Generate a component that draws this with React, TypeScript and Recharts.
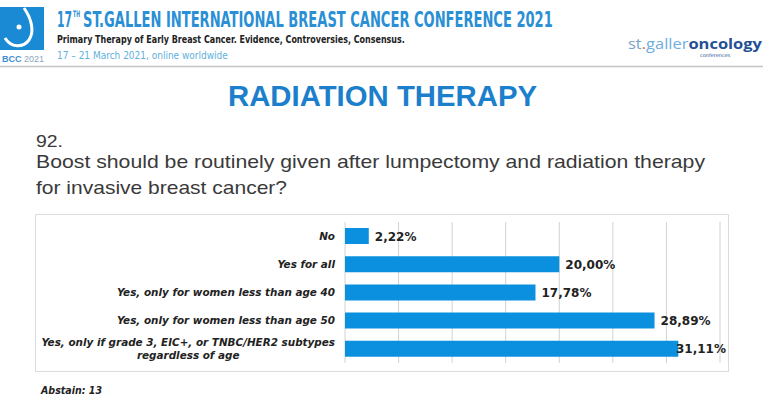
import React from "react";
import { BarChart, Bar, XAxis, YAxis, CartesianGrid, LabelList } from "recharts";

// answers as shown on the slide, top to bottom ("\n" = line break in the label)
const answers = [
  "No",
  "Yes for all",
  "Yes, only for women less than age 40",
  "Yes, only for women less than age 50",
  "Yes, only if grade 3, EIC+, or TNBC/HER2 subtypes\nregardless of age",
];
const percents = [2.22, 20.0, 17.78, 28.89, 31.11];
const gridTicks = [0, 5, 10, 15, 20, 25, 30, 35];

const data = answers.map((answer, i) => ({ answer, pct: percents[i] }));

const BAR_COLOR = "#0b8fdf";
const TICK_SIZE = 10.4;
const TICK_FONT = `italic bold ${TICK_SIZE}px 'DejaVu Sans'`;
const LABEL_FONT = "bold 12px 'DejaVu Sans'";
const CHART_W = 692;
const CHART_H = 156;
const NARROW = "'Liberation Sans Narrow', 'DejaVu Sans Condensed'";

let ctx: CanvasRenderingContext2D | null = null;
const textWidth = (s: string, font: string) => {
  if (!ctx) ctx = document.createElement("canvas").getContext("2d");
  if (!ctx) return s.length * 6;
  ctx.font = font;
  return ctx.measureText(s).width;
};

const fmt = (v: number) => v.toFixed(2).replace(".", ",") + "%";

// condensed header text: squeeze horizontally to a given width
const FitText = ({ x, y, w, size, bold, fill, children }: any) => {
  const natural = textWidth(children, `${bold ? "bold " : ""}${size}px ${NARROW}`);
  const sx = natural > 0 ? w / natural : 1;
  return (
    <text
      transform={`translate(${x},${y}) scale(${sx},1)`}
      style={{ fontFamily: NARROW, fontWeight: bold ? 700 : 400, fontSize: size, fill }}
    >
      {children}
    </text>
  );
};

const AnswerTick = (props: any) => {
  const { x, y, payload } = props;
  const lines = String(payload.value).split("\n");
  const style = {
    fontFamily: "DejaVu Sans",
    fontStyle: "italic",
    fontWeight: 700,
    fontSize: TICK_SIZE,
    fill: "#222",
  };
  if (lines.length === 1) {
    return (
      <text x={x} y={y} dy={3.5} textAnchor="end" style={style}>
        {lines[0]}
      </text>
    );
  }
  const w = Math.max(...lines.map((l) => textWidth(l, TICK_FONT)));
  const cx = x - w / 2;
  return (
    <text textAnchor="middle" style={style}>
      {lines.map((l, i) => (
        <tspan key={i} x={cx} y={y + 3.5 + (i - (lines.length - 1) / 2) * 13}>
          {l}
        </tspan>
      ))}
    </text>
  );
};

const ValueLabel = (props: any) => {
  const { x, y, width, height, value } = props;
  const s = fmt(Number(value));
  const w = textWidth(s, LABEL_FONT);
  const lx = Math.min(x + width + 6, CHART_W - 2 - w);
  return (
    <text
      x={lx}
      y={y + height / 2 + 4.5}
      style={{ fontFamily: "DejaVu Sans", fontWeight: 700, fontSize: 12, fill: "#222" }}
    >
      {s}
    </text>
  );
};

const Header = () => (
  <svg width={774} height={398} style={{ position: "absolute", left: 0, top: 0 }}>
    {/* BCC logo */}
    <rect x={0} y={7} width={44} height={43} fill="#1a8ad4" />
    <path d="M24 8 C31 18 35 31 29 40 C23 48 11 48 5 38" stroke="#fff" strokeWidth={3} fill="none" />
    <circle cx={19} cy={27} r={2.5} fill="#fff" />
    <text x={2} y={62} style={{ fontFamily: "Liberation Sans", fontWeight: 700, fontSize: 9, fill: "#3f8fd0" }}>
      BCC <tspan style={{ fontWeight: 400, fill: "#8aa6c0" }}>2021</tspan>
    </text>

    <FitText x={57} y={27} w={15} size={21} bold fill="#2a8fd4">17</FitText>
    <FitText x={73} y={17} w={7} size={9} bold fill="#2a8fd4">TH</FitText>
    <FitText x={83} y={27} w={470} size={21} bold fill="#2a8fd4">
      ST.GALLEN INTERNATIONAL BREAST CANCER CONFERENCE 2021
    </FitText>
    <FitText x={57} y={43} w={348} size={11} bold fill="#222">
      Primary Therapy of Early Breast Cancer. Evidence, Controversies, Consensus.
    </FitText>
    <FitText x={57} y={59} w={171} size={11} fill="#5fb0dc">
      17 – 21 March 2021, online worldwide
    </FitText>

    {/* st.gallen oncology logo */}
    <text
      x={628}
      y={49}
      textLength={134}
      lengthAdjust="spacingAndGlyphs"
      style={{ fontFamily: "'Open Sans'", fontSize: 15, fill: "#7aa3c8" }}
    >
      st<tspan fill="#e07040">.</tspan>
      <tspan fill="#6fb0e0">galler</tspan>
      <tspan fill="#244f95" fontWeight={700}>oncology</tspan>
    </text>
    <text x={700} y={57} style={{ fontFamily: "'DejaVu Sans'", fontSize: 5, fill: "#244f95" }}>
      conferences
    </text>
    <line x1={0} y1={66.5} x2={763} y2={66.5} stroke="#c4c4c4" strokeWidth={1.5} />

    <text
      x={228}
      y={106}
      textLength={309}
      lengthAdjust="spacingAndGlyphs"
      style={{ fontFamily: "'Liberation Sans'", fontWeight: 700, fontSize: 29, fill: "#1c7fcb" }}
    >
      RADIATION THERAPY
    </text>

    <g style={{ fontFamily: "'Liberation Sans'", fill: "#3a3a3a" }}>
      <text x={36} y={147} fontSize={17} textLength={27} lengthAdjust="spacingAndGlyphs">
        92.
      </text>
      <text x={36} y={168} fontSize={19} textLength={669} lengthAdjust="spacingAndGlyphs">
        Boost should be routinely given after lumpectomy and radiation therapy
      </text>
      <text x={36} y={194} fontSize={19} textLength={251} lengthAdjust="spacingAndGlyphs">
        for invasive breast cancer?
      </text>
    </g>

    <text
      x={41}
      y={394}
      textLength={61}
      lengthAdjust="spacingAndGlyphs"
      style={{ fontFamily: "'DejaVu Sans'", fontStyle: "italic", fontWeight: 700, fontSize: 10, fill: "#222" }}
    >
      Abstain: 13
    </text>
  </svg>
);

export default function App() {
  return (
    <div
      style={{
        position: "absolute",
        left: 0,
        top: 0,
        width: 774,
        height: 398,
        background: "#fff",
        overflow: "hidden",
      }}
    >
      <Header />
      <div
        style={{
          position: "absolute",
          left: 35,
          top: 214,
          width: CHART_W + 2,
          height: CHART_H + 2,
          border: "1px solid #dcdcdc",
          boxSizing: "border-box",
        }}
      >
        <BarChart
          width={CHART_W}
          height={CHART_H}
          data={data}
          layout="vertical"
          margin={{ top: 7, right: 8, bottom: 8, left: 0 }}
          barCategoryGap={0}
        >
          <CartesianGrid horizontal={false} stroke="#d2d2d2" />
          <XAxis type="number" domain={[0, 35]} ticks={gridTicks} hide />
          <YAxis
            type="category"
            dataKey="answer"
            width={309}
            axisLine={false}
            tickLine={false}
            tickSize={0}
            tickMargin={10}
            interval={0}
            tick={<AnswerTick />}
          />
          <Bar dataKey="pct" fill={BAR_COLOR} barSize={16} isAnimationActive={false}>
            <LabelList dataKey="pct" content={<ValueLabel />} />
          </Bar>
        </BarChart>
      </div>
    </div>
  );
}
